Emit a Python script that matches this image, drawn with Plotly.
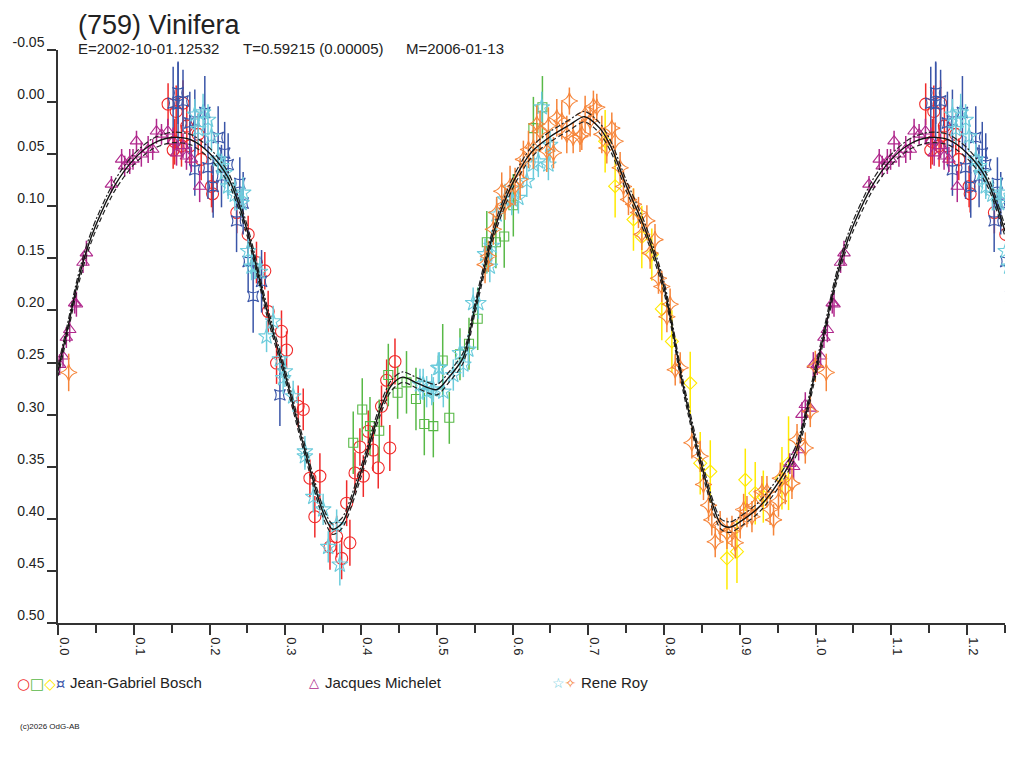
import plotly.graph_objects as go

# ---------------- data (phase, magnitude, error) ----------------
# Jean-Gabriel Bosch - red circles
jgb_o_phase = [0.1453, 0.156, 0.165, 0.170, 0.154, 0.163, 0.152, 0.174, 0.189, 0.185, 0.2026, 0.204,
               0.236, 0.251, 0.262, 0.273, 0.2774, 0.295, 0.3017, 0.2885, 0.317, 0.3237, 0.3325, 0.3457,
               0.339, 0.359, 0.3678, 0.3744, 0.3853, 0.381, 0.392, 0.403, 0.3985, 0.416, 0.4227, 0.4095,
               0.427, 0.4338, 0.4448, 0.438]
jgb_o_mag = [0.002, 0.009, 0.001, 0.023, 0.038, 0.042, 0.046, 0.042, 0.055, 0.031, 0.081, 0.088,
             0.106, 0.127, 0.154, 0.162, 0.201, 0.220, 0.238, 0.2505, 0.292, 0.295, 0.361, 0.359,
             0.398, 0.427, 0.417, 0.438, 0.423, 0.385, 0.356, 0.359, 0.331, 0.334, 0.351, 0.316,
             0.292, 0.267, 0.249, 0.332]
jgb_o_err = [0.020, 0.025, 0.022, 0.020, 0.022, 0.020, 0.018, 0.018, 0.020, 0.020, 0.020, 0.018,
             0.020, 0.018, 0.020, 0.018, 0.020, 0.020, 0.018, 0.020, 0.020, 0.020, 0.018, 0.022,
             0.020, 0.022, 0.020, 0.020, 0.022, 0.022, 0.020, 0.020, 0.018, 0.020, 0.020, 0.020,
             0.020, 0.020, 0.022, 0.022]

# Jean-Gabriel Bosch - green squares
jgb_s_phase = [0.3897, 0.4016, 0.4118, 0.424, 0.436, 0.4483, 0.460, 0.4725, 0.4835, 0.4954, 0.5078,
               0.5165, 0.5306, 0.5425, 0.554, 0.566, 0.578, 0.589, 0.601, 0.6275, 0.6394]
jgb_s_mag = [0.327, 0.295, 0.311, 0.3155, 0.262, 0.279, 0.269, 0.285, 0.309, 0.311, 0.248,
             0.303, 0.242, 0.232, 0.208, 0.1345, 0.1345, 0.129, 0.099, 0.025, 0.005]
jgb_s_err = [0.030, 0.030, 0.028, 0.030, 0.030, 0.025, 0.030, 0.030, 0.030, 0.030, 0.035,
             0.025, 0.025, 0.025, 0.030, 0.030, 0.025, 0.030, 0.030, 0.030, 0.030]

# Jean-Gabriel Bosch - yellow diamonds
jgb_d_phase = [0.7222, 0.7354, 0.7596, 0.7706, 0.7838, 0.797, 0.8103, 0.8345, 0.8477, 0.861, 0.883,
               0.8962, 0.9072, 0.9203, 0.931, 0.9556, 0.9643]
jgb_d_mag = [0.0375, 0.0807, 0.1127, 0.1295, 0.1464, 0.1985, 0.2297, 0.2697, 0.3466, 0.3546, 0.4379,
             0.4315, 0.3626, 0.3754, 0.3787, 0.361, 0.3466]
jgb_d_err = [0.030, 0.030, 0.030, 0.030, 0.025, 0.030, 0.030, 0.030, 0.030, 0.030, 0.030,
             0.030, 0.030, 0.030, 0.025, 0.030, 0.045]

# Jean-Gabriel Bosch - blue
jgb_x_phase = [0.1585, 0.152, 0.165, 0.1585, 0.174, 0.1806, 0.1938, 0.2114, 0.198, 0.1806, 0.220,
               0.2246, 0.2048, 0.2158, 0.240, 0.2444, 0.2357, 0.251, 0.2576, 0.2687, 0.2929]
jgb_x_mag = [-0.009, 0.001, -0.001, 0.002, 0.020, 0.018, 0.010, 0.034, 0.063, 0.065, 0.049,
             0.060, 0.081, 0.071, 0.078, 0.097, 0.114, 0.153, 0.1865, 0.172, 0.281]
jgb_x_err = [0.030, 0.035, 0.030, 0.040, 0.030, 0.030, 0.035, 0.030, 0.030, 0.025, 0.030,
             0.030, 0.030, 0.030, 0.025, 0.030, 0.030, 0.030, 0.035, 0.030, 0.030]

# Jacques Michelet - magenta triangles
jm_phase = [0.0022, 0.0066, 0.011, 0.0155, 0.022, 0.0243, 0.033, 0.0375, 0.0705, 0.084, 0.088, 0.0947,
            0.099, 0.1036, 0.110, 0.119, 0.125, 0.130, 0.1366, 0.145, 0.152, 0.1565, 0.165, 0.1696,
            0.176, 0.187, 0.966, 0.971, 0.9776, 0.982, 0.9864, 0.993, 0.997]
jm_mag = [0.252, 0.244, 0.226, 0.2185, 0.193, 0.194, 0.154, 0.145, 0.079, 0.055, 0.0615, 0.057,
          0.055, 0.0375, 0.050, 0.0455, 0.0455, 0.028, 0.031, 0.028, 0.0375, 0.049, 0.042, 0.052,
          0.055, 0.081, 0.347, 0.350, 0.334, 0.300, 0.2905, 0.294, 0.252]
jm_err = [0.010, 0.010, 0.010, 0.012, 0.010, 0.012, 0.010, 0.012, 0.008, 0.010, 0.010, 0.012,
          0.010, 0.010, 0.012, 0.013, 0.010, 0.012, 0.010, 0.012, 0.013, 0.012, 0.012, 0.013,
          0.012, 0.015, 0.010, 0.012, 0.010, 0.012, 0.012, 0.010, 0.012]

# Rene Roy - cyan stars
rr_s_phase = [0.1806, 0.1915, 0.198, 0.185, 0.2026, 0.2114, 0.2158, 0.220, 0.2246, 0.2334, 0.2444,
              0.2422, 0.251, 0.2555, 0.260, 0.2665, 0.2753, 0.284, 0.2929, 0.2995, 0.2972, 0.3104,
              0.3259, 0.3259, 0.337, 0.350, 0.3678, 0.3567, 0.372, 0.4778, 0.4866, 0.4954, 0.5033,
              0.5086, 0.482, 0.4933, 0.502, 0.5218, 0.5306, 0.535, 0.5416, 0.548, 0.5548, 0.5637,
              0.570, 0.5725, 0.579, 0.590, 0.599, 0.6077, 0.6188, 0.6275, 0.634, 0.6473, 0.6495, 0.6385]
rr_s_mag = [0.012, 0.010, 0.017, 0.026, 0.033, 0.055, 0.0615, 0.068, 0.081, 0.089, 0.087,
            0.097, 0.143, 0.158, 0.158, 0.163, 0.225, 0.2105, 0.247, 0.2585, 0.265, 0.2825,
            0.3354, 0.340, 0.379, 0.391, 0.406, 0.427, 0.444, 0.271, 0.278, 0.276, 0.255,
            0.278, 0.271, 0.276, 0.2553, 0.262, 0.241, 0.252, 0.2377, 0.193, 0.193, 0.146,
            0.158, 0.138, 0.108, 0.0935, 0.0935, 0.092, 0.076, 0.060, 0.057, 0.060, 0.041, 0.005]
rr_s_err = [0.015, 0.018, 0.015, 0.015, 0.015, 0.015, 0.012, 0.015, 0.012, 0.015, 0.015,
            0.013, 0.012, 0.013, 0.012, 0.015, 0.015, 0.015, 0.013, 0.015, 0.015, 0.015,
            0.015, 0.013, 0.015, 0.015, 0.015, 0.015, 0.020, 0.015, 0.015, 0.012, 0.015,
            0.015, 0.015, 0.015, 0.015, 0.015, 0.015, 0.012, 0.015, 0.015, 0.015, 0.015,
            0.015, 0.015, 0.015, 0.015, 0.015, 0.015, 0.015, 0.015, 0.015, 0.015, 0.015, 0.015]

# Rene Roy - orange four-point stars
rr_d_phase = [0.0141, 0.5637, 0.568, 0.5746, 0.579, 0.5857, 0.590, 0.5967, 0.6033, 0.610, 0.6143,
              0.621, 0.6275, 0.632, 0.6363, 0.6473, 0.6452, 0.654, 0.6584, 0.665, 0.6716, 0.675,
              0.680, 0.689, 0.6914, 0.6958, 0.7024, 0.7067, 0.7112, 0.7178, 0.7244, 0.731, 0.7354,
              0.742, 0.7464, 0.753, 0.7596, 0.7662, 0.7706, 0.7773, 0.7816, 0.788, 0.7926, 0.797,
              0.8037, 0.808, 0.8147, 0.8213, 0.8367, 0.8477, 0.852, 0.8587, 0.863, 0.8675, 0.874,
              0.883, 0.8896, 0.894, 0.9005, 0.905, 0.9094, 0.916, 0.9203, 0.9292, 0.9358, 0.940,
              0.9445, 0.951, 0.9534, 0.960, 0.9688, 0.9755, 0.9864, 0.993, 0.9996]
rr_d_mag = [0.2595, 0.156, 0.148, 0.122, 0.106, 0.0855, 0.098, 0.081, 0.081, 0.074, 0.055,
            0.0455, 0.044, 0.021, 0.028, 0.023, 0.047, 0.0486, 0.015, 0.018, 0.031, -0.001,
            0.034, 0.033, 0.031, 0.012, 0.018, 0.004, 0.005, 0.031, 0.044, 0.025, 0.0375,
            0.063, 0.081, 0.0935, 0.098, 0.106, 0.127, 0.114, 0.145, 0.132, 0.169, 0.177,
            0.206, 0.194, 0.257, 0.255, 0.327, 0.340, 0.367, 0.387, 0.401, 0.422, 0.4075,
            0.414, 0.412, 0.423, 0.404, 0.391, 0.393, 0.398, 0.387, 0.374, 0.374, 0.391,
            0.401, 0.383, 0.361, 0.371, 0.366, 0.324, 0.332, 0.297, 0.2537]
rr_d_err = [0.018, 0.018, 0.015, 0.015, 0.015, 0.018, 0.015, 0.020, 0.018, 0.020, 0.018,
            0.018, 0.020, 0.018, 0.020, 0.018, 0.020, 0.015, 0.018, 0.018, 0.018, 0.013,
            0.015, 0.015, 0.015, 0.018, 0.015, 0.015, 0.013, 0.018, 0.015, 0.015, 0.018,
            0.015, 0.015, 0.015, 0.015, 0.015, 0.015, 0.015, 0.015, 0.015, 0.015, 0.015,
            0.015, 0.015, 0.015, 0.015, 0.015, 0.015, 0.015, 0.015, 0.015, 0.015, 0.015,
            0.015, 0.015, 0.015, 0.015, 0.015, 0.015, 0.015, 0.015, 0.015, 0.015, 0.015,
            0.015, 0.015, 0.015, 0.015, 0.015, 0.015, 0.015, 0.015, 0.015]

# Fitted model light curve (one cycle) and its uncertainty band
model_phase = [0.0, 0.0125, 0.025, 0.0375, 0.05, 0.075, 0.1, 0.125, 0.15, 0.175, 0.2, 0.225, 0.25,
               0.275, 0.3, 0.325, 0.35, 0.3625, 0.375, 0.4, 0.425, 0.44, 0.455, 0.475, 0.5, 0.515,
               0.535, 0.55, 0.575, 0.6, 0.625, 0.65, 0.675, 0.695, 0.715, 0.73, 0.75, 0.775, 0.8,
               0.825, 0.85, 0.875, 0.8875, 0.9, 0.925, 0.95, 0.975, 1.0]
model_mag = [0.258, 0.218, 0.176, 0.143, 0.118, 0.080, 0.055, 0.040, 0.034, 0.036, 0.049, 0.073, 0.124,
             0.198, 0.262, 0.332, 0.394, 0.410, 0.404, 0.355, 0.296, 0.272, 0.264, 0.270, 0.276, 0.265,
             0.245, 0.199, 0.125, 0.078, 0.048, 0.033, 0.022, 0.014, 0.025, 0.043, 0.080, 0.122, 0.178,
             0.272, 0.350, 0.405, 0.408, 0.403, 0.389, 0.366, 0.333, 0.258]
model_band = 0.005

x_ticks = [0.0, 0.1, 0.2, 0.3, 0.4, 0.5, 0.6, 0.7, 0.8, 0.9, 1.0, 1.1, 1.2]
x_ticklabels = ["0.0", "0.1", "0.2", "0.3", "0.4", "0.5", "0.6", "0.7", "0.8", "0.9", "1.0", "1.1", "1.2"]
x_minor_ticks = [0.05, 0.15, 0.25, 0.35, 0.45, 0.55, 0.65, 0.75, 0.85, 0.95, 1.05, 1.15, 1.25]
y_ticks = [-0.05, 0.0, 0.05, 0.10, 0.15, 0.20, 0.25, 0.30, 0.35, 0.40, 0.45, 0.50]
y_ticklabels = ["-0.05", "0.00", "0.05", "0.10", "0.15", "0.20", "0.25", "0.30", "0.35", "0.40", "0.45", "0.50"]

X_MAX = 1.25


def fold(ph, mg, er=None):
    """Repeat the early part of the cycle after phase 1.0, as in the original plot."""
    keep = [p + 1 <= X_MAX + 0.02 for p in ph]
    p2 = list(ph) + [p + 1 for p, k in zip(ph, keep) if k]
    m2 = list(mg) + [m for m, k in zip(mg, keep) if k]
    if er is None:
        return p2, m2
    e2 = list(er) + [e for e, k in zip(er, keep) if k]
    return p2, m2, e2


fig = go.Figure()

series = [
    (jgb_o_phase, jgb_o_mag, jgb_o_err, "#F02A2A", "circle-open", 12),
    (jgb_s_phase, jgb_s_mag, jgb_s_err, "#58B947", "square-open", 9),
    (jgb_d_phase, jgb_d_mag, jgb_d_err, "#FFEA00", "diamond-open", 10),
    (jgb_x_phase, jgb_x_mag, jgb_x_err, "#3A55A8", "star-square-open", 10),
    (jm_phase, jm_mag, jm_err, "#B0288C", "triangle-up-open", 11),
    (rr_s_phase, rr_s_mag, rr_s_err, "#6CCCDC", "star-open", 12),
    (rr_d_phase, rr_d_mag, rr_d_err, "#F6853A", "star-diamond-open", 12),
]

for ph, mg, er, col, sym, size in series:
    p2, m2, e2 = fold(ph, mg, er)
    fig.add_trace(go.Scatter(
        x=p2, y=m2, mode="markers",
        marker=dict(symbol=sym, size=size, color=col, line=dict(width=1.1, color=col)),
        error_y=dict(type="data", array=e2, visible=True, width=0, thickness=1.5, color=col),
        showlegend=False, hoverinfo="skip"))

mp, mm = fold(model_phase, model_mag)
mp2, mm2 = [], []
for p, m in sorted(zip(mp, mm)):
    if not mp2 or abs(p - mp2[-1]) > 1e-9:
        mp2.append(p)
        mm2.append(m)

fig.add_trace(go.Scatter(x=mp2, y=[m - model_band for m in mm2], mode="lines",
                         line=dict(color="#222222", width=1.2, dash="6px,2px,2px,2px", shape="spline", smoothing=0.8),
                         showlegend=False, hoverinfo="skip"))
fig.add_trace(go.Scatter(x=mp2, y=[m + model_band for m in mm2], mode="lines",
                         line=dict(color="#222222", width=1.2, dash="5px,3px", shape="spline", smoothing=0.8),
                         showlegend=False, hoverinfo="skip"))
fig.add_trace(go.Scatter(x=mp2, y=mm2, mode="lines",
                         line=dict(color="#111111", width=1.4, shape="spline", smoothing=0.8),
                         showlegend=False, hoverinfo="skip"))

# page offset of the figure (browser body margin)
OFF = 8
# plot area in page pixels
PL, PR, PT, PB = 58, 1005, 50, 623
W, H = 1016, 760
L, R, T, B = PL - OFF, PR - OFF, PT - OFF, PB - OFF


def px(x):
    return (x - OFF - L) / (R - L)


def py(y):
    return (B - (y - OFF)) / (B - T)


FONT = "Liberation Sans, Arial, sans-serif"
SYM_FONT = "DejaVu Sans, sans-serif"


def txt(text, x, y, size, color="#222222", family=FONT, yanchor="middle", xanchor="left"):
    return dict(text=text, x=px(x), y=py(y), xanchor=xanchor, yanchor=yanchor,
                font=dict(size=size, color=color, family=family))


annotations = [
    txt("(759) Vinifera", 77, 9, 27, yanchor="top"),
    txt("E=2002-10-01.12532", 77, 48, 15),
    txt("T=0.59215 (0.00005)", 242, 48, 15),
    txt("M=2006-01-13", 405, 48, 15),
    # legend
    txt("<span style='color:#F02A2A'>○</span><span style='color:#58B947'>□</span>"
        "<span style='color:#FFEA00'>◇</span><span style='color:#3A55A8'>¤</span>",
        16, 684, 15, family=SYM_FONT),
    txt("Jean-Gabriel Bosch", 69, 683, 15),
    txt("<span style='color:#B0288C'>△</span>", 308, 682, 13, family=SYM_FONT),
    txt("Jacques Michelet", 324, 683, 15),
    txt("<span style='color:#6CCCDC'>☆</span><span style='color:#F6853A'>✧</span>",
        551, 683, 14, family=SYM_FONT),
    txt("Rene Roy", 580, 683, 15),
    txt("(c)2026 OdG-AB", 19, 726, 8),
]
for a in annotations:
    a.update(xref="paper", yref="paper", showarrow=False, borderpad=0)

fig.update_layout(
    width=W, height=H,
    margin=dict(l=L, r=W - R, t=T, b=H - B, pad=0),
    paper_bgcolor="white", plot_bgcolor="white",
    font=dict(family=FONT, color="#222222"),
    annotations=annotations,
    showlegend=False,
)

fig.update_xaxes(
    range=[0, X_MAX], showgrid=False, zeroline=False,
    showline=True, linecolor="#333333", linewidth=1.5,
    tickmode="array", tickvals=x_ticks, ticktext=x_ticklabels,
    ticks="outside", ticklen=10, tickwidth=1.5, tickcolor="#333333",
    tickangle=90, ticklabelshift=6, ticklabelstandoff=0,
    tickfont=dict(size=13, family=FONT, color="#222222"),
    minor=dict(tickmode="array", tickvals=x_minor_ticks,
               ticks="outside", ticklen=8, tickwidth=1.5, tickcolor="#333333", showgrid=False),
    automargin=False,
)
fig.update_yaxes(
    range=[0.50, -0.05], showgrid=False, zeroline=False,
    showline=True, linecolor="#333333", linewidth=1.5,
    tickmode="array", tickvals=y_ticks, ticktext=y_ticklabels,
    ticks="outside", ticklen=9, tickwidth=1.5, tickcolor="#333333",
    ticklabelshift=8, ticklabelstandoff=0,
    tickfont=dict(size=14, family=FONT, color="#222222"),
    automargin=False,
)

fig.write_html("out.html")
